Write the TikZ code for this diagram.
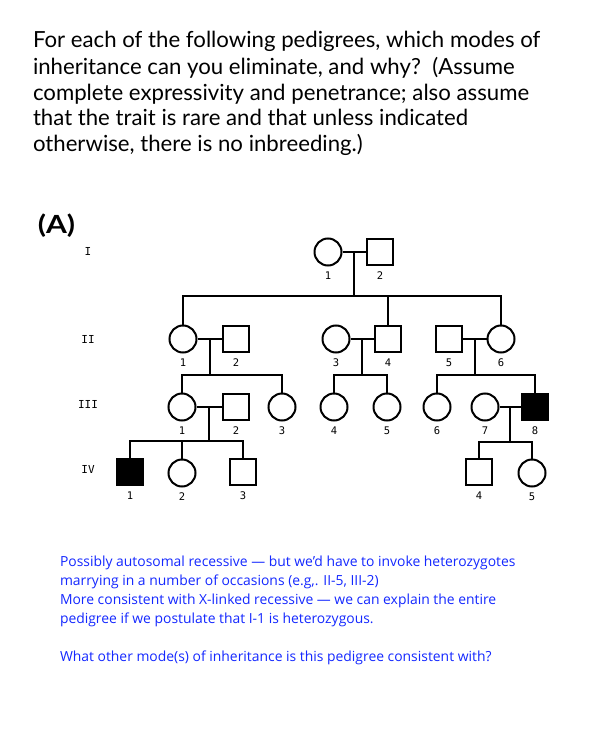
\documentclass[tikz,border=0pt]{standalone}
\usepackage{fontspec}
\setmainfont{Lato}
\newfontfamily\bluefont{Open Sans}
\newfontfamily\pedfont{DejaVu Sans Mono}
\usetikzlibrary{calc}
\definecolor{textblue}{RGB}{20,40,255}
\tikzset{
  fem/.style={circle, draw, minimum size=27pt, inner sep=0pt},
  mal/.style={rectangle, draw, minimum size=26pt, inner sep=0pt},
  aff/.style={fill=black},
  lbl/.style={font=\pedfont\fontsize{10.5}{10.5}\selectfont, inner sep=0pt, anchor=north},
  gen/.style={font=\pedfont\fontsize{11}{11}\selectfont, inner sep=0pt},
  title/.style={anchor=base west, inner sep=0pt, font=\fontsize{22.2}{22.2}\selectfont},
  note/.style={anchor=base west, inner sep=0pt, text=textblue, font=\bluefont\fontsize{13.9}{13.9}\selectfont},
}
\newcommand{\pedlabel}[2]{\node[lbl] (#1-l) at ($(#1.south)+(0,4.5)$) {#2};}
\begin{document}
\begin{tikzpicture}[x=1pt, y=-1pt, line width=2pt]
\useasboundingbox (0,0) rectangle (594,743);
\fill[white] (0,0) rectangle (594,743);

% title
\node[title] (t1) at (32,48) {For each of the following pedigrees, which modes of};
\node[title] (t2) at (32,74.5) {inheritance can you eliminate, and why?\ \ (Assume};
\node[title] (t3) at (32,100.5) {complete expressivity and penetrance; also assume};
\node[title] (t4) at (32,126) {that the trait is rare and that unless indicated};
\node[title] (t5) at (32,152) {otherwise, there is no inbreeding.)};

\node[inner sep=0pt, font=\fontsize{25}{25}\selectfont\bfseries] (A) at (56.5,226) {\scalebox{1.2}[1]{(A)}};

% generation labels
\node[gen] (gI) at (88,251) {I};
\node[gen] (gII) at (88,339) {II};
\node[gen] (gIII) at (88,404) {III};
\node[gen] (gIV) at (88,469) {IV};

% generation I
\node[fem] (I1) at (328,252) {};
\node[mal] (I2) at (380,252) {};

% generation II
\node[fem] (II1) at (183,339) {};
\node[mal] (II2) at (236,339) {};
\node[fem] (II3) at (336,339) {};
\node[mal] (II4) at (388,339) {};
\node[mal] (II5) at (449,339) {};
\node[fem] (II6) at (501,339) {};

% generation III
\node[fem] (III1) at (182,407) {};
\node[mal] (III2) at (236,407) {};
\node[fem] (III3) at (282,407) {};
\node[fem] (III4) at (334,407) {};
\node[fem] (III5) at (387,407) {};
\node[fem] (III6) at (437,407) {};
\node[fem] (III7) at (485,407) {};
\node[mal, aff] (III8) at (535,407) {};

% generation IV
\node[mal, aff] (IV1) at (130,472) {};
\node[fem] (IV2) at (182,473) {};
\node[mal] (IV3) at (243,472) {};
\node[mal] (IV4) at (479,472) {};
\node[fem] (IV5) at (532,473) {};

% individual numbers
\pedlabel{I1}{1}\pedlabel{I2}{2}
\pedlabel{II1}{1}\pedlabel{II2}{2}\pedlabel{II3}{3}\pedlabel{II4}{4}\pedlabel{II5}{5}\pedlabel{II6}{6}
\pedlabel{III1}{1}\pedlabel{III2}{2}\pedlabel{III3}{3}\pedlabel{III4}{4}\pedlabel{III5}{5}\pedlabel{III6}{6}\pedlabel{III7}{7}\pedlabel{III8}{8}
\pedlabel{IV1}{1}\pedlabel{IV2}{2}\pedlabel{IV3}{3}\pedlabel{IV4}{4}\pedlabel{IV5}{5}

% couples
\draw (I1) -- (I2);
\draw (II1) -- (II2);
\draw (II3) -- (II4);
\draw (II5) -- (II6);
\draw (III1) -- (III2);
\draw (III7) -- (III8);

\coordinate (mI) at ($(I1)!0.5!(I2)$);
\coordinate (mIIa) at ($(II1)!0.5!(II2)$);
\coordinate (mIIb) at ($(II3)!0.5!(II4)$);
\coordinate (mIIc) at ($(II5)!0.5!(II6)$);
\coordinate (mIIIa) at ($(III1)!0.5!(III2)$);
\coordinate (mIIIb) at ($(III7)!0.5!(III8)$);

\coordinate (sI) at (mI |- 0,296);
\coordinate (sIIa) at (mIIa |- 0,375);
\coordinate (sIIb) at (mIIb |- 0,375);
\coordinate (sIIc) at (mIIc |- 0,375);
\coordinate (sIIIa) at (mIIIa |- 0,441);
\coordinate (sIIIb) at (mIIIb |- 0,442);

% descent lines
\draw (mI) -- (sI);
\draw (II1.north) |- (sI) -| (II6.north);
\draw (II4.north) -- (II4.north |- sI);

\draw (mIIa) -- (sIIa);
\draw (III1.north) |- (sIIa) -| (III3.north);
\draw (mIIb) -- (sIIb);
\draw (III4.north) |- (sIIb) -| (III5.north);
\draw (mIIc) -- (sIIc);
\draw (III6.north) |- (sIIc) -| (III8.north);

\draw (mIIIa) -- (sIIIa);
\draw (IV1.north) |- (sIIIa) -| (IV3.north);
\draw (IV2.north) -- (IV2.north |- sIIIa);
\draw (mIIIb) -- (sIIIb);
\draw (IV4.north) |- (sIIIb) -| (IV5.north);

% notes
\node[note] (n1) at (59,566) {Possibly autosomal recessive — but we’d have to invoke heterozygotes};
\node[note] (n2) at (59,585) {marrying in a number of occasions (e.g,. II-5, III-2)};
\node[note] (n3) at (59,604) {More consistent with X-linked recessive — we can explain the entire};
\node[note] (n4) at (59,623) {pedigree if we postulate that I-1 is heterozygous.};
\node[note] (n5) at (59,661) {What other mode(s) of inheritance is this pedigree consistent with?};
\end{tikzpicture}
\end{document}
